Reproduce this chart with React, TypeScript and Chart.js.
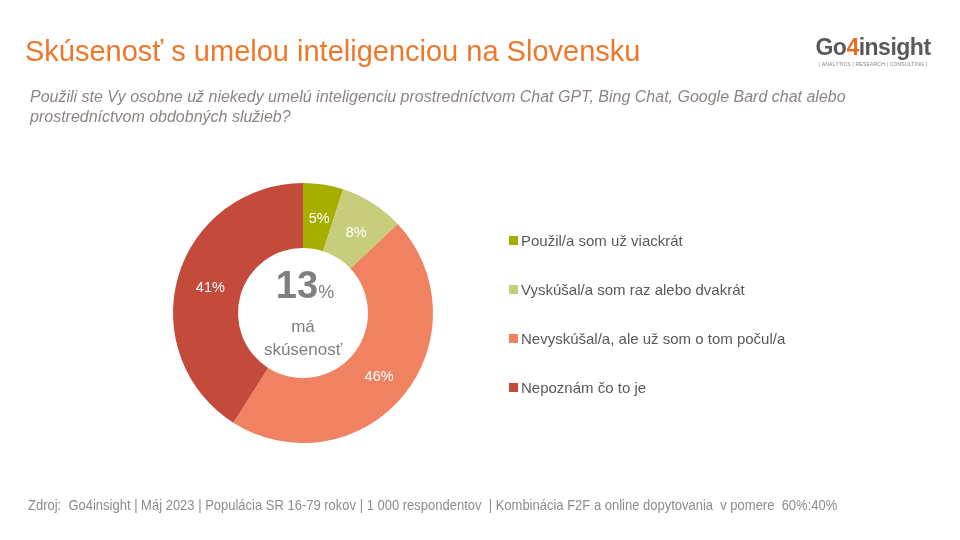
import React, { useEffect, useRef } from "react";
import { Chart, registerables } from "chart.js";

Chart.register(...registerables);

const categories = [
  "Použil/a som už viackrát",
  "Vyskúšal/a som raz alebo dvakrát",
  "Nevyskúšal/a, ale už som o tom počul/a",
  "Nepoznám čo to je",
];
const values = [5, 8, 46, 41];
const colors = ["#a6ae00", "#c6cd7b", "#f08262", "#c44b3c"];
const centerValue = "13";
const centerLabel = ["má", "skúsenosť"];

const title = "Skúsenosť s umelou inteligenciou na Slovensku";
const subtitle =
  "Použili ste Vy osobne už niekedy umelú inteligenciu prostredníctvom Chat GPT, Bing Chat, Google Bard chat alebo prostredníctvom obdobných služieb?";
const footer =
  "Zdroj:  Go4insight | Máj 2023 | Populácia SR 16-79 rokov | 1 000 respondentov  | Kombinácia F2F a online dopytovania  v pomere  60%:40%";

const FONT = "'Liberation Sans', Arial, sans-serif";

const labelPlugin = {
  id: "sliceLabels",
  afterDatasetsDraw(chart: any) {
    const ctx = chart.ctx;
    const meta = chart.getDatasetMeta(0);
    ctx.save();
    ctx.fillStyle = "#ffffff";
    ctx.font = `14.5px ${FONT}`;
    ctx.textAlign = "center";
    ctx.textBaseline = "middle";
    meta.data.forEach((arc: any, i: number) => {
      const p = arc.tooltipPosition();
      ctx.fillText(values[i] + "%", p.x + 1, p.y + 2);
    });
    ctx.restore();
  },
};

export default function App() {
  const ref = useRef<HTMLCanvasElement>(null);

  useEffect(() => {
    document.body.style.margin = "0";
    const chart = new Chart(ref.current!, {
      type: "doughnut",
      data: {
        labels: categories,
        datasets: [
          {
            data: values,
            backgroundColor: colors,
            borderColor: "#ffffff",
            borderWidth: 0,
          },
        ],
      },
      options: {
        responsive: false,
        animation: false,
        cutout: "50%",
        layout: { padding: { left: 173, right: 527, top: 183, bottom: 97 } },
        plugins: { legend: { display: false }, tooltip: { enabled: false } },
      },
      plugins: [labelPlugin],
    });
    return () => chart.destroy();
  }, []);

  return (
    <div
      style={{
        position: "absolute",
        left: 0,
        top: 0,
        width: 960,
        height: 540,
        background: "#fff",
        fontFamily: FONT,
        overflow: "hidden",
      }}
    >
      <canvas ref={ref} width={960} height={540} style={{ position: "absolute", left: 0, top: 0 }} />
      <div
        style={{
          position: "absolute",
          left: 25,
          top: 34,
          fontSize: 29,
          lineHeight: "34px",
          color: "#f0762a",
          whiteSpace: "nowrap",
        }}
      >
        {title}
      </div>
      <div
        style={{
          position: "absolute",
          left: 30,
          top: 87,
          width: 920,
          fontSize: 16,
          lineHeight: "20px",
          fontStyle: "italic",
          color: "#8c8582",
        }}
      >
        {subtitle}
      </div>
      {/* logo */}
      <div style={{ position: "absolute", left: 813, top: 34, width: 120, textAlign: "center" }}>
        <div style={{ fontSize: 23, fontWeight: "bold", color: "#595959", letterSpacing: -0.5, lineHeight: "26px" }}>
          Go<span style={{ color: "#ec6b24" }}>4</span>insight
        </div>
        <div style={{ fontSize: 5, color: "#7f7f7f", letterSpacing: 0.2, lineHeight: "8px", whiteSpace: "nowrap" }}>
          <span style={{ color: "#ec6b24" }}>|</span> ANALYTICS <span style={{ color: "#ec6b24" }}>|</span> RESEARCH{" "}
          <span style={{ color: "#ec6b24" }}>|</span> CONSULTING <span style={{ color: "#ec6b24" }}>|</span>
        </div>
      </div>
      {/* center text */}
      <div
        style={{
          position: "absolute",
          left: 243,
          top: 265,
          width: 120,
          textAlign: "center",
          color: "#7f7f7f",
        }}
      >
        <div style={{ lineHeight: "40px", paddingLeft: 4 }}>
          <span style={{ fontSize: 38, fontWeight: "bold" }}>{centerValue}</span>
          <span style={{ fontSize: 18 }}>%</span>
        </div>
        <div style={{ fontSize: 17, lineHeight: "23px", marginTop: 2 }}>{centerLabel[0]}</div>
        <div style={{ fontSize: 17, lineHeight: "23px" }}>{centerLabel[1]}</div>
      </div>
      {/* legend */}
      {categories.map((c, i) => (
        <div
          key={c}
          style={{
            position: "absolute",
            left: 509,
            top: 231 + i * 49.3,
            height: 18,
            display: "flex",
            alignItems: "center",
            whiteSpace: "nowrap",
            fontSize: 15,
            color: "#595959",
          }}
        >
          <span style={{ width: 9, height: 9, background: colors[i], marginRight: 3, display: "inline-block" }} />
          {c}
        </div>
      ))}
      <div
        style={{
          position: "absolute",
          left: 28,
          top: 496,
          fontSize: 15,
          color: "#8c8c8c",
          whiteSpace: "pre",
          transform: "scaleX(0.866)",
          transformOrigin: "0 0",
        }}
      >
        {footer}
      </div>
    </div>
  );
}
